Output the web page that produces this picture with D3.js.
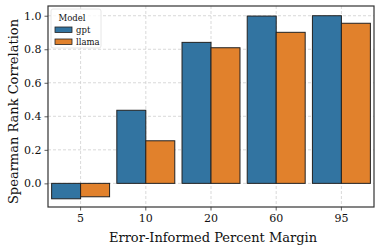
<!DOCTYPE html>
<html><head><meta charset="utf-8">
<script src="https://cdn.jsdelivr.net/npm/d3@7"></script>
<style>body{margin:0;background:#fff;} svg{display:block;font-family:"DejaVu Serif",serif;}</style>
</head><body>
<script>
const categories = ["5", "10", "20", "60", "95"];
const models = ["gpt", "llama"];
const gptValues = [-0.092, 0.436, 0.841, 0.998, 1.0];
const llamaValues = [-0.08, 0.254, 0.809, 0.901, 0.955];
const yTicks = [0.0, 0.2, 0.4, 0.6, 0.8, 1.0];
const colors = {gpt: "#3274a1", llama: "#e1812c"};

const W = 381, H = 249;
const m = {left: 48, right: 7, top: 6, bottom: 42};
const svg = d3.select("body").append("svg").attr("width", W).attr("height", H);
const x = d3.scaleBand().domain(categories).range([m.left, W - m.right]).paddingInner(0).paddingOuter(0);
const y = d3.scaleLinear().domain([-0.141, 1.058]).range([H - m.bottom, m.top]);
const inner = d3.scaleBand().domain(models).range([0, x.bandwidth()]).paddingOuter(0.125).paddingInner(0);

const g = svg.append("g");
// grid
g.selectAll(".gy").data(yTicks).join("line")
  .attr("x1", m.left).attr("x2", W - m.right)
  .attr("y1", d => y(d)).attr("y2", d => y(d))
  .attr("stroke", "#cfcfcf").attr("stroke-width", 0.8).attr("stroke-dasharray", "3,2");
g.selectAll(".gx").data(categories).join("line")
  .attr("x1", d => x(d) + x.bandwidth()/2).attr("x2", d => x(d) + x.bandwidth()/2)
  .attr("y1", m.top).attr("y2", H - m.bottom)
  .attr("stroke", "#cfcfcf").attr("stroke-width", 0.8).attr("stroke-dasharray", "3,2");

const data = [];
categories.forEach((c, i) => {
  data.push({c, mdl: "gpt", v: gptValues[i]});
  data.push({c, mdl: "llama", v: llamaValues[i]});
});
g.selectAll(".bar").data(data).join("rect")
  .attr("x", d => x(d.c) + inner(d.mdl))
  .attr("width", inner.bandwidth())
  .attr("y", d => y(Math.max(0, d.v)))
  .attr("height", d => Math.abs(y(d.v) - y(0)))
  .attr("fill", d => colors[d.mdl])
  .attr("stroke", "#222").attr("stroke-width", 1);

// axes
const xAxis = d3.axisBottom(x).tickSize(3.5).tickPadding(3.5);
const yAxis = d3.axisLeft(y).tickValues(yTicks).tickFormat(d3.format(".1f")).tickSize(3.5).tickPadding(3);
const gx = svg.append("g").attr("transform", `translate(0,${H - m.bottom})`).call(xAxis);
const gy = svg.append("g").attr("transform", `translate(${m.left},0)`).call(yAxis);
[gx, gy].forEach(a => {
  a.select(".domain").remove();
  a.selectAll("text").attr("font-family", "DejaVu Serif").attr("font-size", 11).attr("fill", "#111");
  a.selectAll("line").attr("stroke", "#333").attr("stroke-width", 0.8);
});
// frame
svg.append("rect").attr("x", m.left).attr("y", m.top)
  .attr("width", W - m.left - m.right).attr("height", H - m.top - m.bottom)
  .attr("fill", "none").attr("stroke", "#333").attr("stroke-width", 1.2);

svg.append("text").attr("x", (m.left + W - m.right)/2 + 2).attr("y", 241.5)
  .attr("text-anchor", "middle").attr("font-size", 13).attr("fill", "#111")
  .text("Error-Informed Percent Margin");
svg.append("text").attr("transform", `translate(18,${(m.top + H - m.bottom)/2 + 5}) rotate(-90)`)
  .attr("text-anchor", "middle").attr("font-size", 13).attr("fill", "#111")
  .text("Spearman Rank Correlation");

// legend
const lg = svg.append("g");
lg.append("rect").attr("x", 51).attr("y", 9).attr("width", 50).attr("height", 39)
  .attr("fill", "#fff").attr("fill-opacity", 0.8).attr("stroke", "#e0e0e0").attr("stroke-width", 0.8).attr("rx", 2);
lg.append("text").attr("x", 72).attr("y", 20.5).attr("text-anchor", "middle").attr("font-size", 8.5).attr("fill", "#111").text("Model");
models.forEach((mdl, i) => {
  lg.append("rect").attr("x", 55).attr("y", 27 + i * 12).attr("width", 17).attr("height", 5.5)
    .attr("fill", colors[mdl]).attr("stroke", "#222").attr("stroke-width", 0.8);
  lg.append("text").attr("x", 76).attr("y", 33 + i * 12).attr("font-size", 8.5).attr("fill", "#111").text(mdl);
});
</script>
</body></html>
